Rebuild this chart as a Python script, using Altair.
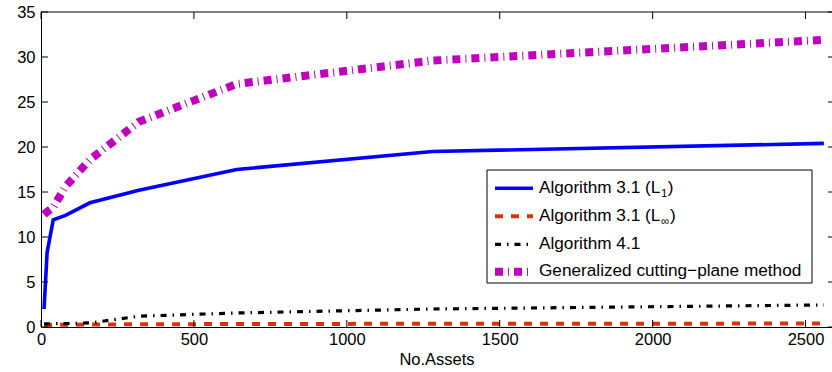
import altair as alt
import pandas as pd

# ---------------- data ----------------
assets = [10, 20, 40, 80, 160, 320, 640, 1280, 2560]
alg31_l1 = [2.0, 8.3, 11.9, 12.4, 13.8, 15.2, 17.5, 19.5, 20.4]
alg31_linf = [0.2, 0.2, 0.22, 0.25, 0.28, 0.3, 0.33, 0.36, 0.38]
alg41 = [0.35, 0.35, 0.37, 0.38, 0.45, 1.2, 1.56, 2.0, 2.45]
gcp = [12.5, 12.8, 13.3, 15.6, 18.6, 22.8, 27.0, 29.6, 31.9]

x_ticks = [0, 500, 1000, 1500, 2000, 2500]
y_ticks = [0, 5, 10, 15, 20, 25, 30, 35]

legend_main = ["Algorithm 3.1 (L", "Algorithm 3.1 (L", "Algorithm 4.1",
               "Generalized cutting\u2212plane method"]
legend_sub = ["1", "\u221e"]
x_title = "No.Assets"

# ---------------- layout / style ----------------
FONT = "Liberation Sans"
W, H = 791, 315
FS_TICK = 16.5
FS_LEG = 17.2
FS_SUB = 11.5

xs = alt.Scale(domain=[0, 2586.5], nice=False, zero=False)
ys = alt.Scale(domain=[0, 35], nice=False)

x_axis = alt.Axis(values=x_ticks, title=x_title, ticks=False, tickSize=0, grid=False,
                  domainColor="black", domainWidth=1, labelFont=FONT,
                  labelFontSize=FS_TICK, labelColor="black", labelPadding=4,
                  labelFlush=False, format="d", titleFont=FONT,
                  titleFontSize=FS_TICK, titleFontWeight="normal",
                  titleColor="black", titlePadding=4)
y_axis = alt.Axis(values=y_ticks, title="", ticks=False, tickSize=0, grid=False,
                  domainColor="black", domainWidth=1, labelFont=FONT,
                  labelFontSize=FS_TICK, labelColor="black", labelPadding=6,
                  labelFlush=False, format="d")

X = alt.X("assets:Q", scale=xs, axis=x_axis)
Y = alt.Y("time:Q", scale=ys, axis=y_axis)

styles = [
    (alg31_l1, "#0000FF", 3.6, None),
    (alg31_linf, "#D9330A", 4, [8, 8]),
    (alg41, "#000000", 3.2, [6, 6, 1.5, 6]),
    (gcp, "#BF00BF", 8, [8, 5, 1, 5]),
]

layers = []
for vals, color, width, dash in styles:
    df = pd.DataFrame({"assets": assets, "time": vals})
    mk = dict(color=color, strokeWidth=width, strokeCap="butt")
    if dash:
        mk["strokeDash"] = dash
    layers.append(alt.Chart(df).mark_line(**mk).encode(x=X, y=Y))

# inward ticks and top border
xt = pd.DataFrame({"assets": x_ticks})
yt = pd.DataFrame({"time": y_ticks})
one = pd.DataFrame({"k": [0]})
tick_style = dict(color="black", strokeWidth=1)
layers.append(alt.Chart(xt).mark_rule(**tick_style).encode(
    x=X, y=alt.value(H), y2=alt.value(H - 7)))
layers.append(alt.Chart(xt).mark_rule(**tick_style).encode(
    x=X, y=alt.value(0), y2=alt.value(7)))
layers.append(alt.Chart(yt).mark_rule(**tick_style).encode(
    y=Y, x=alt.value(0), x2=alt.value(7)))
layers.append(alt.Chart(yt).mark_rule(**tick_style).encode(
    y=Y, x=alt.value(W - 4), x2=alt.value(W)))
layers.append(alt.Chart(one).mark_rule(**tick_style).encode(
    x=alt.value(0), x2=alt.value(W), y=alt.value(0)))

# legend box
LX0, LX1, LY0, LY1 = 446, 771, 158, 271
layers.append(alt.Chart(one).mark_rect(fill="white", stroke="black", strokeWidth=1).encode(
    x=alt.value(LX0), x2=alt.value(LX1), y=alt.value(LY0), y2=alt.value(LY1)))

line_y = [176.3, 204.3, 232.3, 259.8]
SX0, SX1, TX = 454, 492, 498
for (vals, color, width, dash), ly in zip(styles, line_y):
    mk = dict(color=color, strokeWidth=width, strokeCap="butt")
    if dash:
        mk["strokeDash"] = dash
    layers.append(alt.Chart(one).mark_rule(**mk).encode(
        x=alt.value(SX0), x2=alt.value(SX1), y=alt.value(ly)))

txt = dict(font=FONT, color="black", align="left", baseline="alphabetic")
for label, ly in zip(legend_main, line_y):
    layers.append(alt.Chart(one).mark_text(text=label, fontSize=FS_LEG, **txt).encode(
        x=alt.value(TX), y=alt.value(ly + 4.5)))

# subscripts and closing parentheses
main_w = 7.058 * FS_LEG
sub_w = [0.556 * FS_SUB, 0.75 * FS_SUB]
for i, sub in enumerate(legend_sub):
    ly = line_y[i]
    sx = TX + main_w + 0.5
    layers.append(alt.Chart(one).mark_text(text=sub, fontSize=FS_SUB, **txt).encode(
        x=alt.value(sx), y=alt.value(ly + 8.5)))
    layers.append(alt.Chart(one).mark_text(text=")", fontSize=FS_LEG, **txt).encode(
        x=alt.value(sx + sub_w[i] + 0.5), y=alt.value(ly + 4.5)))

chart = alt.layer(*layers).properties(
    width=W, height=H,
    autosize=alt.AutoSizeParams(type="none"),
    padding={"left": 41, "top": 12, "right": 0, "bottom": 45},
    background="white",
).configure_view(strokeWidth=0)

chart.save("out.html", embed_options={"renderer": "svg", "actions": False})
